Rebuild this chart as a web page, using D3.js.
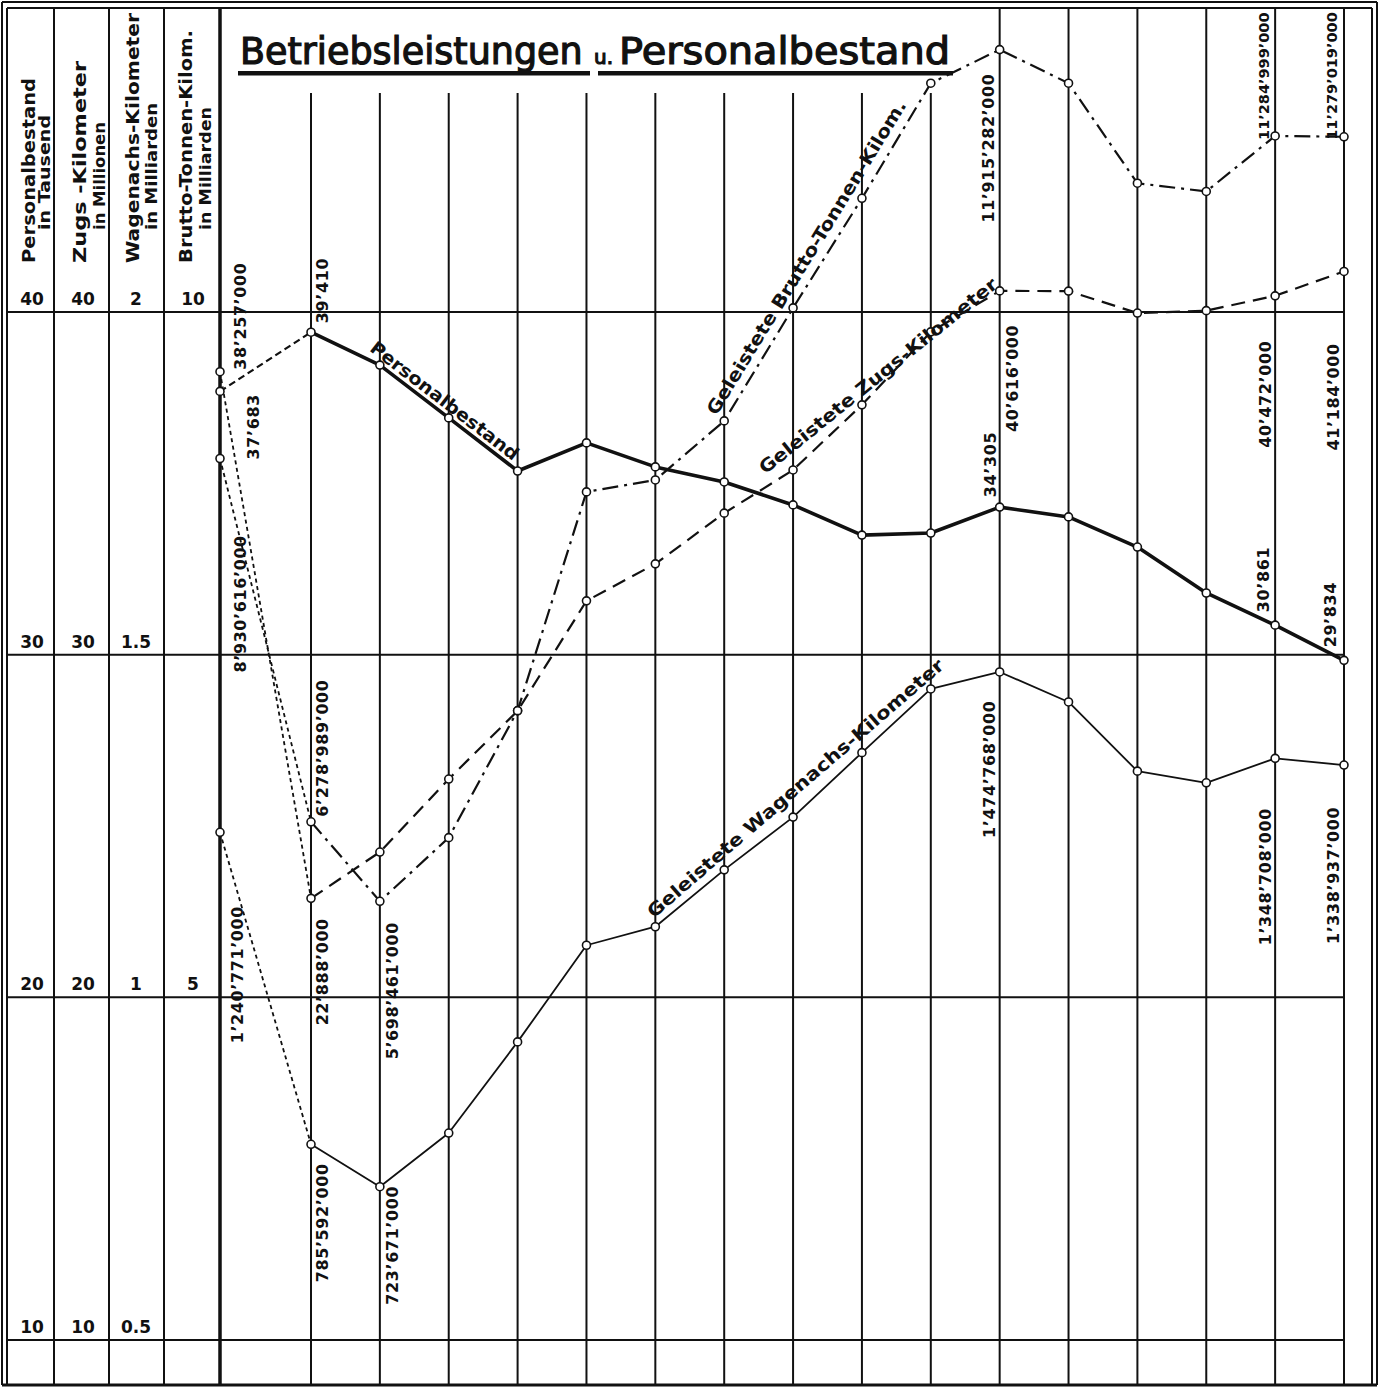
<!DOCTYPE html>
<html><head><meta charset="utf-8">
<script src="https://cdn.jsdelivr.net/npm/d3@7"></script>
<style>html,body{margin:0;padding:0;background:#fff}svg{display:block}</style>
</head><body>
<svg id="c" width="1379" height="1387"></svg>
<script>
// ---- data ----
const columns = d3.range(17); // 17 Jahres-Spalten (Jahre nicht beschriftet)
const personal   = [37.683, 39.410, 38.45, 36.91, 35.36, 36.18, 35.48, 35.04, 34.37, 33.49, 33.55, 34.305, 34.02, 33.14, 31.80, 30.861, 29.834]; // in Tausend
const zugsKm     = [38.257, 22.888, 24.24, 26.37, 28.36, 31.57, 32.65, 34.13, 35.39, 37.29, 39.42, 40.616, 40.61, 39.97, 40.04, 40.472, 41.184]; // in Millionen
const wagenachsKm= [1.240771, 0.785592, 0.723671, 0.802, 0.935, 1.076, 1.103, 1.186, 1.263, 1.357, 1.450, 1.474768, 1.431, 1.330, 1.313, 1.348708, 1.338937]; // in Milliarden
const bruttoTkm  = [8.930616, 6.278989, 5.698461, 6.163, 7.09, 8.687, 8.774, 9.205, 10.03, 10.83, 11.67, 11.915282, 11.67, 10.94, 10.88, 11.284999, 11.279019]; // in Milliarden
const persTicks   = [10, 20, 30, 40];
const zugsTicks   = [10, 20, 30, 40];
const wagTicks    = [0.5, 1, 1.5, 2];
const bruttoTicks = [5, 10];
const headers = [
  ["Personalbestand", "in Tausend"],
  ["Zugs -Kilometer", "in Millionen"],
  ["Wagenachs-Kilometer", "in Milliarden"],
  ["Brutto-Tonnen-Kilom.", "in Milliarden"]
];
const titleParts = ["Betriebsleistungen", "u.", "Personalbestand"];
const seriesNames = {
  pers: "Personalbestand",
  zugs: "Geleistete Zugs-Kilometer",
  wag: "Geleistete Wagenachs-Kilometer",
  brutto: "Geleistete Brutto-Tonnen-Kilom."
};

// ---- scales ----
const x = d3.scaleLinear().domain([0, 1, 16]).range([220, 311, 1344]);
const yPers = d3.scaleLinear().domain([10, 40]).range([1340, 312]);
const yZugs = d3.scaleLinear().domain([10, 40]).range([1340, 312]);
const yWag = d3.scaleLinear().domain([0.5, 2]).range([1340, 312]);
const yBrutto = d3.scaleLinear().domain([5, 10]).range([997, 312]);

const svg = d3.select("#c");
const ink = "#111";
const FONT = "'DejaVu Sans', 'Noto Sans', sans-serif";
svg.append("rect").attr("width", 1379).attr("height", 1387).attr("fill", "#fff");

const L = 7, R = 1372, T = 8, B = 1385;
const grid = svg.append("g").attr("stroke", ink).attr("fill", "none");

// borders
grid.append("line").attr("x1", 2).attr("x2", 2).attr("y1", 2).attr("y2", B).attr("stroke-width", 2);
grid.append("line").attr("x1", L).attr("x2", L).attr("y1", T).attr("y2", B).attr("stroke-width", 2);
grid.append("line").attr("x1", 2).attr("x2", 1377).attr("y1", 2).attr("y2", 2).attr("stroke-width", 2);
grid.append("line").attr("x1", L).attr("x2", R).attr("y1", T).attr("y2", T).attr("stroke-width", 2);
grid.append("line").attr("x1", R).attr("x2", R).attr("y1", T).attr("y2", B).attr("stroke-width", 2);
grid.append("line").attr("x1", 1377).attr("x2", 1377).attr("y1", 2).attr("y2", B).attr("stroke-width", 2);
grid.append("line").attr("x1", 2).attr("x2", 1377).attr("y1", B).attr("y2", B).attr("stroke-width", 3);

// header column dividers
[54, 109, 164].forEach(cx => grid.append("line").attr("x1", cx).attr("x2", cx).attr("y1", T).attr("y2", B).attr("stroke-width", 2));

// horizontal lines
persTicks.forEach(t => grid.append("line").attr("x1", L).attr("x2", x(16)).attr("y1", yPers(t)).attr("y2", yPers(t)).attr("stroke-width", 2));

// vertical year lines
columns.forEach(i => {
  grid.append("line")
    .attr("x1", x(i)).attr("x2", x(i))
    .attr("y1", i === 0 || i >= 11 ? T : 93).attr("y2", B)
    .attr("stroke-width", i === 0 ? 3.5 : 2);
});

// ---- header texts ----
const hdrX = [[35, 50], [86, 105], [139, 157], [192, 211]];
const hdrLen = [[185, 115], [202, 108], [250, 127], [233, 123]];
headers.forEach((h, k) => {
  h.forEach((txt, j) => {
    svg.append("text")
      .attr("transform", `translate(${hdrX[k][j]},${j === 0 ? 263 : 230}) rotate(-90)`)
      .attr("font-family", FONT).attr("font-weight", "bold")
      .attr("font-size", j === 0 ? 17 : 16)
      .attr("textLength", hdrLen[k][j]).attr("lengthAdjust", "spacingAndGlyphs")
      .attr("fill", ink).text(txt);
  });
});

// tick labels
const tickCols = [
  {ticks: persTicks, scale: yPers, cx: 32},
  {ticks: zugsTicks, scale: yZugs, cx: 83},
  {ticks: wagTicks, scale: yWag, cx: 136},
  {ticks: bruttoTicks, scale: yBrutto, cx: 193}
];
tickCols.forEach(c => {
  c.ticks.forEach(t => {
    svg.append("text").attr("x", c.cx).attr("y", c.scale(t) - 7)
      .attr("text-anchor", "middle").attr("font-family", FONT).attr("font-weight", "bold")
      .attr("font-size", 17).attr("fill", ink).text(String(t));
  });
});

// ---- title ----
const title = svg.append("g").attr("font-family", FONT).attr("fill", ink)
  .attr("stroke", ink).attr("stroke-width", 1.2);
title.append("text").attr("x", 240).attr("y", 64).attr("font-size", 36.5).text(titleParts[0]);
title.append("text").attr("x", 594).attr("y", 64).attr("font-size", 20)
  .attr("textLength", 19).attr("lengthAdjust", "spacingAndGlyphs").text(titleParts[1]);
title.append("text").attr("x", 619).attr("y", 64).attr("font-size", 37)
  .attr("textLength", 331).attr("lengthAdjust", "spacingAndGlyphs").text(titleParts[2]);
title.append("rect").attr("x", 238).attr("y", 71).attr("width", 352).attr("height", 4.5).attr("stroke", "none");
title.append("rect").attr("x", 598).attr("y", 71).attr("width", 355).attr("height", 4.5).attr("stroke", "none");

// ---- series lines ----
const series = [
  {key: "pers", vals: personal, y: yPers, unit: 1e3, main: {w: 3.6, dash: null}, first: {w: 2.2, dash: "7,4"}},
  {key: "zugs", vals: zugsKm, y: yZugs, unit: 1e6, main: {w: 2.2, dash: "14,8"}, first: {w: 1.8, dash: "4,3.5"}},
  {key: "wag", vals: wagenachsKm, y: yWag, unit: 1e9, main: {w: 1.8, dash: null}, first: {w: 1.8, dash: "4,3.5"}},
  {key: "brutto", vals: bruttoTkm, y: yBrutto, unit: 1e9, main: {w: 2.2, dash: "16,6,3,6"}, first: {w: 1.8, dash: "4,3.5"}}
];
const lineGen = (s) => d3.line().x(i => x(i)).y(i => s.y(s.vals[i]));
const lines = svg.append("g").attr("fill", "none").attr("stroke", ink);
series.forEach(s => {
  lines.append("path").attr("d", lineGen(s)([0, 1]))
    .attr("stroke-width", s.first.w).attr("stroke-dasharray", s.first.dash);
  lines.append("path").attr("d", lineGen(s)(columns.slice(1)))
    .attr("stroke-width", s.main.w).attr("stroke-dasharray", s.main.dash)
    .attr("stroke-linejoin", "round");
});
const dots = svg.append("g");
series.forEach(s => {
  dots.selectAll(null).data(columns).join("circle")
    .attr("cx", i => x(i)).attr("cy", i => s.y(s.vals[i])).attr("r", 4)
    .attr("fill", "#fff").attr("stroke", ink).attr("stroke-width", 1.6);
});

// ---- value labels (rotated) ----
const fmt = d3.formatLocale({decimal: ".", thousands: "’", grouping: [3], currency: ["", ""]}).format(",d");
// [series key, column index, dx to label centre, dy of label start, optional font size]
const valueLabels = [
  ["pers", 0, 33, 68], ["pers", 1, 11, -9], ["pers", 11, -10, -10], ["pers", 15, -12, -13], ["pers", 16, -14, -13],
  ["zugs", 0, 20, -2], ["zugs", 1, 11, 127], ["zugs", 11, 12, 141], ["zugs", 15, -10, 152], ["zugs", 16, -11, 179],
  ["brutto", 0, 20, 214], ["brutto", 1, 11, -5], ["brutto", 2, 12, 158], ["brutto", 11, -12, 173], ["brutto", 15, -12, 4, 14.5], ["brutto", 16, -13, 3, 14.5],
  ["wag", 0, 17, 211], ["wag", 1, 11, 138], ["wag", 2, 12, 118], ["wag", 11, -11, 166], ["wag", 15, -10, 187], ["wag", 16, -11, 179]
];
const byKey = Object.fromEntries(series.map(s => [s.key, s]));
valueLabels.forEach(([k, i, dx, dy, fs]) => {
  const s = byKey[k];
  const v = Math.round(s.vals[i] * s.unit);
  const px = x(i) + dx + 6, py = s.y(s.vals[i]) + dy;
  svg.append("text")
    .attr("transform", `translate(${px},${py}) rotate(-90)`)
    .attr("font-family", FONT).attr("font-weight", "bold").attr("font-size", fs || 16)
    .attr("letter-spacing", fs ? 0 : 0.6).attr("fill", ink).text(fmt(v));
});

// ---- series names along lines ----
// [key, from index, to index, offset along, offset perpendicular, length]
const lineLabels = [
  ["pers", 2, 4, -18, 5, 182],
  ["brutto", 7, 10, 0, 9, 365],
  ["zugs", 7, 11, 56, 4, 300],
  ["wag", 6, 10, 4, 7, 385]
];
lineLabels.forEach(([k, a, b, t, d, len]) => {
  const s = byKey[k];
  const x0 = x(a), y0 = s.y(s.vals[a]), x1 = x(b), y1 = s.y(s.vals[b]);
  const n = Math.hypot(x1 - x0, y1 - y0);
  const ux = (x1 - x0) / n, uy = (y1 - y0) / n;
  const px = x0 + t * ux + d * uy, py = y0 + t * uy - d * ux;
  const ang = Math.atan2(uy, ux) * 180 / Math.PI;
  svg.append("text")
    .attr("transform", `translate(${px},${py}) rotate(${ang})`)
    .attr("font-family", FONT).attr("font-weight", "bold").attr("font-size", 18)
    .attr("textLength", len).attr("lengthAdjust", "spacingAndGlyphs")
    .attr("fill", ink).text(seriesNames[k]);
});
</script>
</body></html>
